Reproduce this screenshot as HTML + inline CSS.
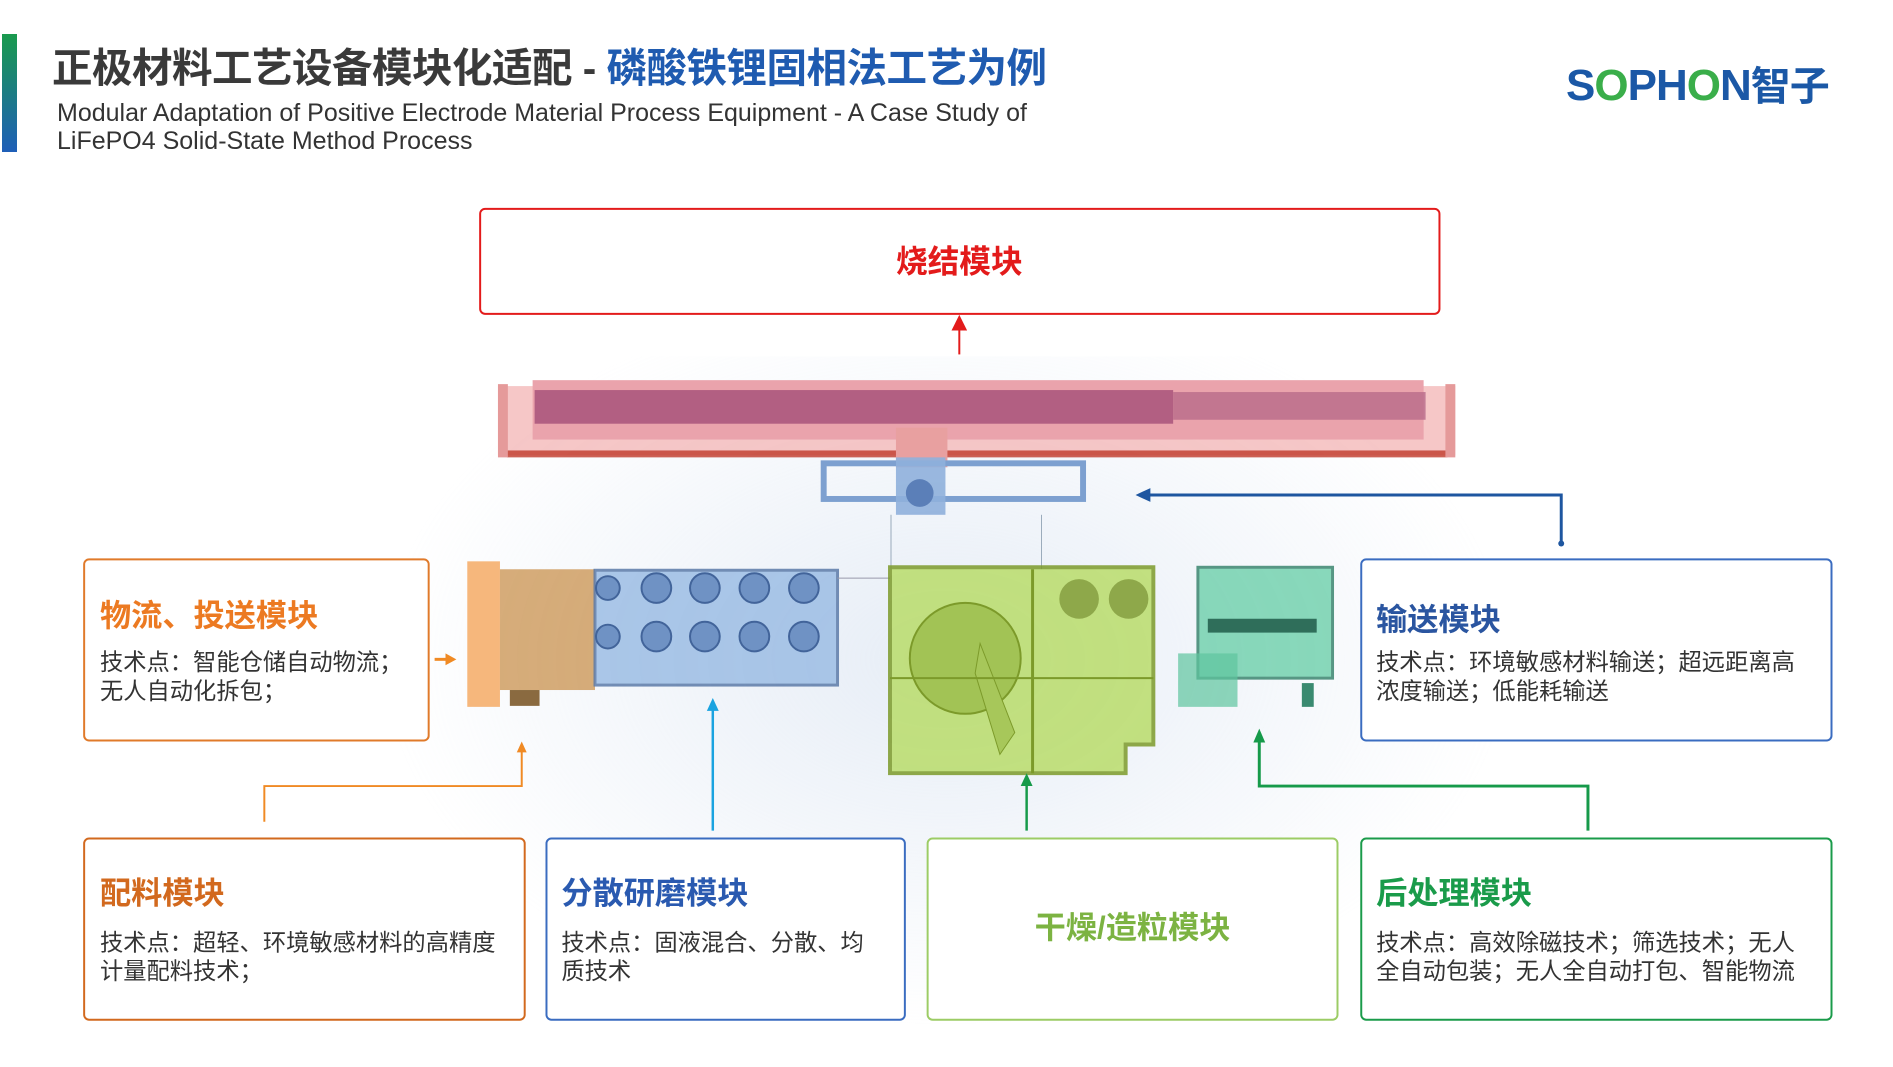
<!DOCTYPE html>
<html><head><meta charset="utf-8"><style>
*{margin:0;padding:0;box-sizing:border-box}
body{width:1893px;height:1067px;background:#fff;position:relative;overflow:hidden;font-family:"Liberation Sans","Noto Sans CJK SC",sans-serif}
.a{position:absolute}
#w{position:absolute;left:0;top:0;width:1893px;height:1067px;transform:scale(0.99);transform-origin:0 0}
.box{position:absolute;border:2px solid;border-radius:6px;background:#fff}
.t{position:absolute;font-weight:bold;font-size:31.5px;white-space:nowrap}
.d{position:absolute;font-size:23.5px;color:#333;line-height:29px;white-space:nowrap}
</style></head><body>
<div class="a" style="left:2px;top:34px;width:15px;height:118px;background:linear-gradient(#1a9a4e,#1f5fb8)"></div>
<div class="a" style="left:52px;top:35px;font-size:40.5px;font-weight:bold;color:#3a3a3a;white-space:nowrap;letter-spacing:-0.5px">正极材料工艺设备模块化适配 - <span style="color:#1f5bb0">磷酸铁锂固相法工艺为例</span></div>
<div class="a" style="left:57px;top:99px;font-size:25px;color:#333;line-height:28px;width:1100px">Modular Adaptation of Positive Electrode Material Process Equipment - A Case Study of<br>LiFePO4 Solid-State Method Process</div>
<div class="a" style="left:1566px;top:54px;font-size:44px;font-weight:bold;color:#1b58a6;white-space:nowrap;letter-spacing:-1px">S<span style="color:#3aae4a">O</span>PH<span style="color:#3aae4a">O</span>N<span style="font-size:40px">智子</span></div>

<div id="w">
<div class="a" style="left:380px;top:360px;width:1150px;height:680px;background:radial-gradient(ellipse at 50% 45%,rgba(200,215,235,0.45),rgba(255,255,255,0) 70%)"></div>

<div class="box" style="left:484px;top:210px;width:971px;height:108px;border-color:#e31b1b"></div>
<div class="t" style="left:905px;top:239px;color:#e31b1b;font-size:32px">烧结模块</div>

<svg class="a" style="left:0;top:0" width="1893" height="1067">
<defs>
<marker id="mr" markerWidth="8" markerHeight="8" refX="4" refY="4" orient="auto"><path d="M0,0L8,4L0,8z" fill="#e31b1b"/></marker>
</defs>
<rect x="503" y="390" width="967" height="70" fill="#f4b9b9" opacity="0.8"/>
<rect x="538" y="384" width="900" height="60" fill="#eaa3ac"/>
<rect x="540" y="394" width="645" height="34" fill="#a8547a" opacity="0.85"/>
<rect x="1185" y="396" width="255" height="28" fill="#b86a8a" opacity="0.8"/>
<rect x="512" y="455" width="950" height="7" fill="#c0392b" opacity="0.8"/>
<rect x="503" y="388" width="10" height="74" fill="#e59a9a"/>
<rect x="1460" y="388" width="10" height="74" fill="#e59a9a"/>
<rect x="905" y="432" width="52" height="40" fill="#e8a0a0"/>
<rect x="832" y="468" width="262" height="36" fill="none" stroke="#7da0d0" stroke-width="6"/>
<rect x="905" y="462" width="50" height="58" fill="#8fb0dc" opacity="0.9"/>
<circle cx="929" cy="498" r="14" fill="#5b7fb8"/>
<line x1="900" y1="520" x2="900" y2="575" stroke="#9ab" stroke-width="1"/>
<line x1="1052" y1="520" x2="1052" y2="575" stroke="#9ab" stroke-width="1"/>
<rect x="472" y="567" width="33" height="147" fill="#f6b77c"/>
<rect x="505" y="575" width="96" height="122" fill="#c9924e" opacity="0.75"/>
<rect x="515" y="697" width="30" height="16" fill="#8a6a40"/>
<rect x="601" y="576" width="245" height="116" fill="#9cbde4" opacity="0.85" stroke="#5b7aa8" stroke-width="3"/>
<g fill="#6f92c4" stroke="#42649a" stroke-width="2">
<circle cx="663" cy="594" r="15"/><circle cx="712" cy="594" r="15"/><circle cx="762" cy="594" r="15"/><circle cx="812" cy="594" r="15"/>
<circle cx="663" cy="643" r="15"/><circle cx="712" cy="643" r="15"/><circle cx="762" cy="643" r="15"/><circle cx="812" cy="643" r="15"/><circle cx="614" cy="643" r="12"/><circle cx="614" cy="594" r="12"/>
</g>
<line x1="846" y1="584" x2="899" y2="584" stroke="#99a" stroke-width="1"/>
<path d="M899,573H1165V752H1137V781H899Z" fill="#b9dc6a" opacity="0.85" stroke="#7c9a2a" stroke-width="4"/>
<circle cx="975" cy="665" r="56" fill="#a2c355" stroke="#7c9a2a" stroke-width="2"/>
<path d="M990,650L1025,740L1010,762L985,680Z" fill="#a7c75a" stroke="#7c9a2a"/>
<circle cx="1090" cy="605" r="20" fill="#8ea84a"/><circle cx="1140" cy="605" r="20" fill="#8ea84a"/>
<line x1="1043" y1="575" x2="1043" y2="781" stroke="#7c9a2a" stroke-width="3"/>
<line x1="899" y1="685" x2="1165" y2="685" stroke="#7c9a2a" stroke-width="2"/>
<rect x="1210" y="573" width="136" height="112" fill="#6ccfaa" opacity="0.8" stroke="#2f7e66" stroke-width="3"/>
<rect x="1190" y="660" width="60" height="54" fill="#5ec49e" opacity="0.7"/>
<rect x="1220" y="625" width="110" height="14" fill="#2f6e5a"/>
<rect x="1315" y="690" width="12" height="24" fill="#3a8a70"/>
<line x1="969" y1="358" x2="969" y2="326" stroke="#e31b1b" stroke-width="2" marker-end="url(#mr)"/>
<polyline points="1577,549 1577,500 1158,500" fill="none" stroke="#1e56a0" stroke-width="3"/>
<path d="M1147,500L1162,493L1162,507Z" fill="#1e56a0"/>
<circle cx="1577" cy="549" r="3" fill="#1e56a0"/>
<line x1="439" y1="666" x2="452" y2="666" stroke="#f08a24" stroke-width="3"/><path d="M461,666L450,660L450,672Z" fill="#f08a24"/>
<polyline points="267,830 267,794 527,794 527,758" fill="none" stroke="#f08a24" stroke-width="2"/><path d="M527,749L522,760L532,760Z" fill="#f08a24"/>
<line x1="720" y1="839" x2="720" y2="716" stroke="#1aa3e0" stroke-width="2.5"/><path d="M720,705L714,718L726,718Z" fill="#1aa3e0"/>
<line x1="1037" y1="839" x2="1037" y2="792" stroke="#169a4a" stroke-width="2.5"/><path d="M1037,781L1031,794L1043,794Z" fill="#169a4a"/>
<polyline points="1604,839 1604,794 1272,794 1272,748" fill="none" stroke="#169a4a" stroke-width="3"/><path d="M1272,736L1266,750L1278,750Z" fill="#169a4a"/>
</svg>

<div class="box" style="left:84px;top:564px;width:350px;height:185px;border-color:#e07a2a"></div>
<div class="t" style="left:101px;top:597px;color:#ec7a22">物流、投送模块</div>
<div class="d" style="left:101px;top:655px">技术点：智能仓储自动物流；<br>无人自动化拆包；</div>

<div class="box" style="left:1374px;top:564px;width:477px;height:185px;border-color:#3a6cc0"></div>
<div class="t" style="left:1390px;top:601px;color:#2a55a0">输送模块</div>
<div class="d" style="left:1390px;top:655px">技术点：环境敏感材料输送；超远距离高<br>浓度输送；低能耗输送</div>

<div class="box" style="left:84px;top:846px;width:447px;height:185px;border-color:#d2691e"></div>
<div class="t" style="left:101px;top:877px;color:#d2691e">配料模块</div>
<div class="d" style="left:101px;top:938px">技术点：超轻、环境敏感材料的高精度<br>计量配料技术；</div>

<div class="box" style="left:551px;top:846px;width:364px;height:185px;border-color:#3a6cc0"></div>
<div class="t" style="left:567px;top:877px;color:#2a5ab0">分散研磨模块</div>
<div class="d" style="left:567px;top:938px">技术点：固液混合、分散、均<br>质技术</div>

<div class="box" style="left:936px;top:846px;width:416px;height:185px;border-color:#9ccc65"></div>
<div class="t" style="left:936px;width:416px;text-align:center;top:912px;color:#7cb342">干燥/造粒模块</div>

<div class="box" style="left:1374px;top:846px;width:477px;height:185px;border-color:#1a9b4a"></div>
<div class="t" style="left:1390px;top:877px;color:#1a9b4a">后处理模块</div>
<div class="d" style="left:1390px;top:938px">技术点：高效除磁技术；筛选技术；无人<br>全自动包装；无人全自动打包、智能物流</div>
</div>
</body></html>
